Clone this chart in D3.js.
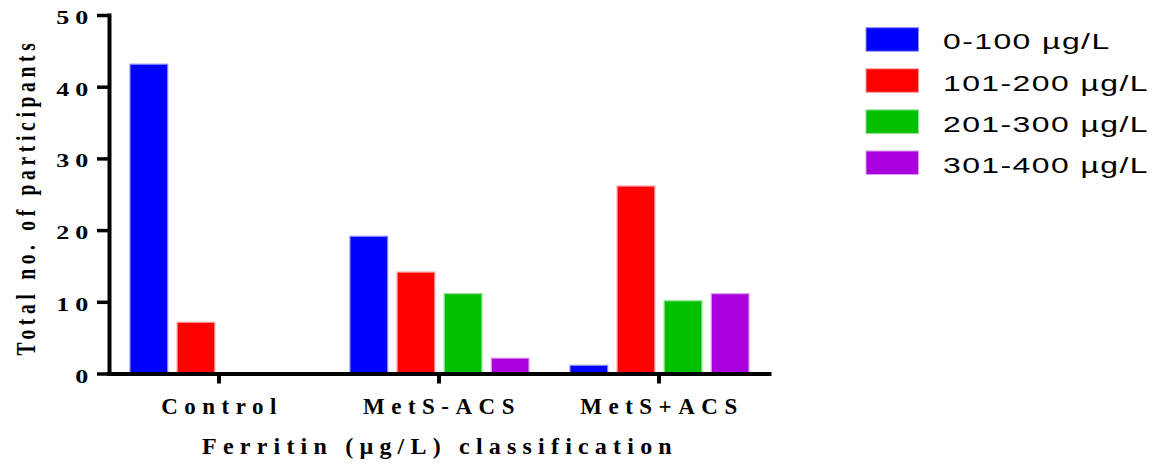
<!DOCTYPE html>
<html>
<head>
<meta charset="utf-8">
<script src="https://cdn.jsdelivr.net/npm/d3@7"></script>
<style>
  html, body { margin: 0; padding: 0; background: #fff; }
  svg { display: block; }
</style>
</head>
<body>
<svg id="chart" width="1157" height="464"></svg>
<script>
// ---- data ----
const groups = ["Control", "MetS-ACS", "MetS+ACS"];
const seriesNames = ["0-100 µg/L", "101-200 µg/L", "201-300 µg/L", "301-400 µg/L"];
const s0to100   = [43, 19, 1];
const s101to200 = [7, 14, 26];
const s201to300 = [0, 11, 10];
const s301to400 = [0, 2, 11];
const yTicks = [0, 10, 20, 30, 40, 50];
const yTitle = "Total no. of participants";
const xTitle = "Ferritin (µg/L) classification";

const seriesValues = [s0to100, s101to200, s201to300, s301to400];
const colors = ["#0000ff", "#ff0000", "#00c000", "#aa00dd"];
const edges  = ["#8c8cff", "#ff9a9a", "#8ee08e", "#d99cf0"];
const SX = 1.45; // horizontal stretch of some texts in the reference

const svg = d3.select("#chart");

const x0 = d3.scaleBand().domain(groups).range([109, 769]).paddingInner(0).paddingOuter(0);
const x1 = d3.scaleBand().domain(seriesNames).range([21, 200]).paddingInner(0.2).paddingOuter(0);
const y = d3.scaleLinear().domain([0, 50]).range([373.5, 15]);

// ---- bars ----
const table = [];
groups.forEach((g, gi) => seriesNames.forEach((s, si) => {
  table.push({ group: g, series: s, si: si, value: seriesValues[si][gi] });
}));

svg.append("g").selectAll("rect")
  .data(table.filter(d => d.value > 0))
  .join("rect")
  .attr("x", d => x0(d.group) + x1(d.series))
  .attr("width", x1.bandwidth())
  .attr("y", d => y(d.value) - 1)
  .attr("height", d => y(0) - y(d.value) + 1)
  .attr("fill", d => colors[d.si])
  .attr("stroke", d => edges[d.si])
  .attr("stroke-width", 1.2);

// ---- axes ----
const yAxis = svg.append("g")
  .attr("transform", "translate(109,0)")
  .call(d3.axisLeft(y).tickValues(yTicks).tickSize(12).tickSizeOuter(0).tickFormat(d3.format("d")));
yAxis.select(".domain").attr("stroke", "#000").attr("stroke-width", 4).attr("stroke-linecap", "square");
yAxis.selectAll(".tick line").attr("stroke", "#000").attr("stroke-width", 3.5);
yAxis.selectAll(".tick text")
  .attr("x", 0).attr("dy", null)
  .attr("transform", "translate(-15,8.5) scale(" + SX + ",1)")
  .attr("text-anchor", "end")
  .attr("font-family", "'Liberation Serif', 'Times New Roman', serif")
  .attr("font-weight", "bold")
  .attr("font-size", 18)
  .attr("letter-spacing", 4)
  .attr("fill", "#000");

const xAxis = svg.append("g")
  .attr("transform", "translate(0," + y(0) + ")")
  .call(d3.axisBottom(x0).tickSize(10).tickSizeOuter(0));
xAxis.select(".domain").attr("stroke", "#000").attr("stroke-width", 4).attr("stroke-linecap", "square");
xAxis.selectAll(".tick line").attr("stroke", "#000").attr("stroke-width", 4);
xAxis.selectAll(".tick text")
  .attr("y", 0).attr("dy", null)
  .attr("transform", "translate(3,40)")
  .attr("text-anchor", "middle")
  .attr("font-family", "'Liberation Serif', 'Times New Roman', serif")
  .attr("font-weight", "bold")
  .attr("font-size", 23)
  .attr("letter-spacing", 6.5)
  .attr("fill", "#000");

// ---- axis titles ----
svg.append("text")
  .attr("transform", "translate(440,454)")
  .attr("text-anchor", "middle")
  .attr("font-family", "'Liberation Serif', 'Times New Roman', serif")
  .attr("font-weight", "bold")
  .attr("font-size", 24)
  .attr("letter-spacing", 6.2)
  .text(xTitle);

svg.append("text")
  .attr("transform", "translate(34.5,197) scale(" + SX + ",1) rotate(-90)")
  .attr("text-anchor", "middle")
  .attr("font-family", "'Liberation Serif', 'Times New Roman', serif")
  .attr("font-weight", "bold")
  .attr("font-size", 19.5)
  .attr("letter-spacing", 4.7)
  .text(yTitle);

// ---- legend ----
const legY = d3.scalePoint().domain(seriesNames).range([27.7, 151]);
const leg = svg.append("g").selectAll("g").data(seriesNames).join("g")
  .attr("transform", d => "translate(0," + legY(d) + ")");
leg.append("rect")
  .attr("x", 866).attr("y", 0).attr("width", 52.5).attr("height", 23.5)
  .attr("fill", (d, i) => colors[i])
  .attr("stroke", (d, i) => edges[i]).attr("stroke-width", 1);
leg.append("text")
  .attr("transform", "translate(943,21.7) scale(" + SX + ",1)")
  .attr("font-family", "'Liberation Sans', Arial, sans-serif")
  .attr("font-size", 22)
  .attr("letter-spacing", 1)
  .attr("fill", "#000")
  .text(d => d);
</script>
</body>
</html>
